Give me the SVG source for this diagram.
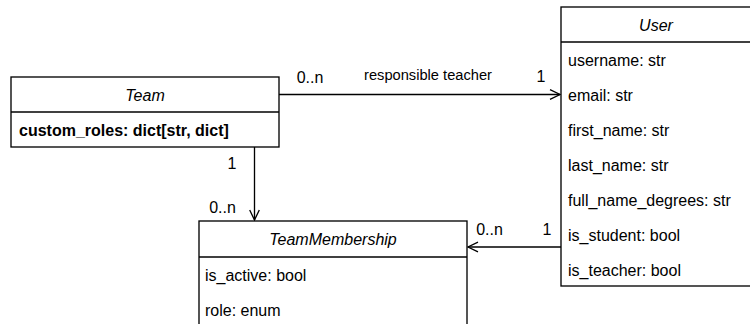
<svg xmlns="http://www.w3.org/2000/svg" width="750" height="324" viewBox="0 0 750 324">
  <style>
    .box { fill: #fff; stroke: #000; stroke-width: 1.33; }
    .sep { stroke: #000; stroke-width: 1.33; }
    .edge { fill: none; stroke: #000; stroke-width: 1.33; }
    text { font-family: "Liberation Sans", Arial, Helvetica, sans-serif; font-size: 16px; fill: #000; }
    .title { font-style: italic; text-anchor: middle; }
    .bold { font-weight: bold; }
    .mid { text-anchor: middle; }
    .small { font-size: 14.67px; }
  </style>
  <defs>
    <marker id="open-arrow" viewBox="0 0 12 12" refX="11" refY="6" markerWidth="12" markerHeight="12" markerUnits="userSpaceOnUse" orient="auto">
      <path d="M1,1.2 L11,6 L1,10.8" fill="none" stroke="#000" stroke-width="1.33"/>
    </marker>
  </defs>

  <!-- connectors -->
  <g id="connectors">
    <line class="edge" x1="279" y1="94.5" x2="560" y2="94.5" marker-end="url(#open-arrow)"/>
    <text x="310" y="82.5" class="mid">0..n</text>
    <text x="428" y="79.5" class="mid small">responsible teacher</text>
    <text x="541" y="82" class="mid">1</text>

    <line class="edge" x1="254.5" y1="147" x2="254.5" y2="220" marker-end="url(#open-arrow)"/>
    <text x="232" y="169" class="mid">1</text>
    <text x="222.5" y="212.5" class="mid">0..n</text>

    <line class="edge" x1="561" y1="247" x2="468" y2="247" marker-end="url(#open-arrow)"/>
    <text x="489.5" y="234.5" class="mid">0..n</text>
    <text x="547" y="234.5" class="mid">1</text>
  </g>

  <!-- Team -->
  <g id="team">
    <rect class="box" x="11" y="77" width="268" height="70"/>
    <line class="sep" x1="11" y1="112" x2="279" y2="112"/>
    <text x="145" y="100.5" class="title">Team</text>
    <text x="19" y="135.5" class="bold">custom_roles: dict[str, dict]</text>
  </g>

  <!-- User -->
  <g id="user">
    <rect class="box" x="561" y="7" width="190" height="279"/>
    <line class="sep" x1="561" y1="42" x2="751" y2="42"/>
    <text x="656" y="31" class="title">User</text>
    <text x="568" y="66">username: str</text>
    <text x="568" y="101">email: str</text>
    <text x="568" y="136">first_name: str</text>
    <text x="568" y="171">last_name: str</text>
    <text x="568" y="206">full_name_degrees: str</text>
    <text x="568" y="241">is_student: bool</text>
    <text x="568" y="276">is_teacher: bool</text>
  </g>

  <!-- TeamMembership -->
  <g id="team-membership">
    <rect class="box" x="199" y="221" width="268" height="120"/>
    <line class="sep" x1="199" y1="257" x2="467" y2="257"/>
    <text x="333" y="245" class="title">TeamMembership</text>
    <text x="205" y="281">is_active: bool</text>
    <text x="205" y="316">role: enum</text>
  </g>
</svg>
